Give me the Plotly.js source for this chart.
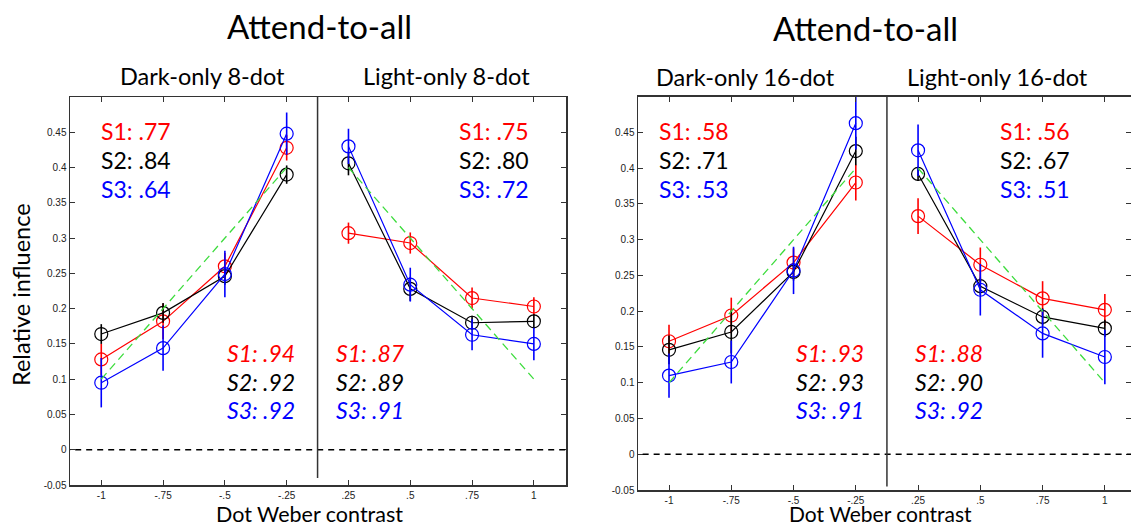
<!DOCTYPE html>
<html><head><meta charset="utf-8">
<script src="https://cdn.plot.ly/plotly-3.0.1.min.js"></script>
<style>html,body{margin:0;padding:0;background:#fff}#chart{width:1131px;height:527px}</style>
</head><body><div id="chart"></div>
<script>
// categories (dot Weber contrast)
const xCats = ['-1', '-.75', '-.5', '-.25', '.25', '.5', '.75', '1'];
const darkX = ['-1', '-.75', '-.5', '-.25'];
const lightX = ['.25', '.5', '.75', '1'];
const yTickVals = [-0.05, 0, 0.05, 0.1, 0.15, 0.2, 0.25, 0.3, 0.35, 0.4, 0.45];
const yTickText = ['-0.05', '0', '0.05', '0.1', '0.15', '0.2', '0.25', '0.3', '0.35', '0.4', '0.45'];

// ideal (green dashed)
const darkIdeal = [0.1, 0.2, 0.3, 0.4];
const lightIdeal = [0.4, 0.3, 0.2, 0.1];

// 8-dot, dark-only
const d8_S1 = [0.128, 0.182, 0.260, 0.428];
const d8_S2 = [0.164, 0.194, 0.246, 0.390];
const d8_S3 = [0.095, 0.144, 0.249, 0.448];
const d8_S1e = [0.022, 0.025, 0.019, 0.018];
const d8_S2e = [0.014, 0.014, 0.012, 0.013];
const d8_S3e = [0.035, 0.032, 0.033, 0.030];
// 8-dot, light-only
const l8_S1 = [0.307, 0.293, 0.215, 0.203];
const l8_S2 = [0.406, 0.228, 0.180, 0.182];
const l8_S3 = [0.430, 0.234, 0.163, 0.150];
const l8_S1e = [0.015, 0.015, 0.015, 0.013];
const l8_S2e = [0.017, 0.017, 0.010, 0.010];
const l8_S3e = [0.025, 0.024, 0.022, 0.023];
// 16-dot, dark-only
const d16_S1 = [0.158, 0.194, 0.268, 0.380];
const d16_S2 = [0.146, 0.171, 0.255, 0.424];
const d16_S3 = [0.110, 0.129, 0.257, 0.463];
const d16_S1e = [0.023, 0.025, 0.020, 0.025];
const d16_S2e = [0.020, 0.030, 0.012, 0.020];
const d16_S3e = [0.031, 0.030, 0.033, 0.037];
// 16-dot, light-only
const l16_S1 = [0.333, 0.265, 0.218, 0.202];
const l16_S2 = [0.392, 0.235, 0.192, 0.176];
const l16_S3 = [0.425, 0.230, 0.169, 0.136];
const l16_S1e = [0.025, 0.024, 0.024, 0.022];
const l16_S2e = [0.010, 0.012, 0.012, 0.012];
const l16_S3e = [0.036, 0.036, 0.034, 0.038];

// fit labels
const topLabels = {
  d8: ['S1: .77', 'S2: .84', 'S3: .64'],
  l8: ['S1: .75', 'S2: .80', 'S3: .72'],
  d16: ['S1: .58', 'S2: .71', 'S3: .53'],
  l16: ['S1: .56', 'S2: .67', 'S3: .51']
};
const botLabels = {
  d8: ['S1: .94', 'S2: .92', 'S3: .92'],
  l8: ['S1: .87', 'S2: .89', 'S3: .91'],
  d16: ['S1: .93', 'S2: .93', 'S3: .91'],
  l16: ['S1: .88', 'S2: .90', 'S3: .92']
};

const RED = 'rgb(255,0,0)', BLK = 'rgb(0,0,0)', BLU = 'rgb(0,0,255)', GRN = 'rgb(60,220,60)';
const subjColors = [RED, BLK, BLU];

const W = 1131, H = 527;
const traces = [];
function addGroup(xs, ys, errs, xa, ya) {
  ys.forEach((y, i) => {
    traces.push({
      x: xs, y: y, xaxis: xa, yaxis: ya, type: 'scatter', mode: 'lines+markers',
      line: {color: subjColors[i], width: 1.2},
      marker: {symbol: 'circle-open', size: 13, color: subjColors[i], line: {width: 1.2, color: subjColors[i]}},
      error_y: {type: 'data', array: errs[i], visible: true, width: 0, thickness: 1.6, color: subjColors[i]},
      showlegend: false, hoverinfo: 'skip'
    });
  });
}
function addIdeal(xs, ys, xa, ya) {
  traces.push({x: xs, y: ys, xaxis: xa, yaxis: ya, type: 'scatter', mode: 'lines',
    line: {color: GRN, width: 1.3, dash: '8px,5px'}, showlegend: false, hoverinfo: 'skip'});
}
addGroup(darkX, [d8_S1, d8_S2, d8_S3], [d8_S1e, d8_S2e, d8_S3e], 'x', 'y');
addGroup(lightX, [l8_S1, l8_S2, l8_S3], [l8_S1e, l8_S2e, l8_S3e], 'x', 'y');
addGroup(darkX, [d16_S1, d16_S2, d16_S3], [d16_S1e, d16_S2e, d16_S3e], 'x2', 'y2');
addGroup(lightX, [l16_S1, l16_S2, l16_S3], [l16_S1e, l16_S2e, l16_S3e], 'x2', 'y2');
addIdeal(darkX, darkIdeal, 'x', 'y');
addIdeal(lightX, lightIdeal, 'x', 'y');
addIdeal(darkX, darkIdeal, 'x2', 'y2');
addIdeal(lightX, lightIdeal, 'x2', 'y2');

const FONT = 'Lato, "Open Sans", sans-serif';
const TICKFONT = {family: '"Liberation Sans Narrow", "Liberation Sans", Arial, sans-serif', size: 10, color: '#222'};
function xAxis(domain, range, anchor) {
  return {type: 'category', categoryorder: 'array', categoryarray: xCats, domain: domain, range: range, anchor: anchor,
    showline: true, linecolor: '#333', linewidth: 1.5, mirror: 'ticks', ticks: 'inside', ticklen: 5, tickcolor: '#333',
    showgrid: false, zeroline: false, tickfont: TICKFONT, automargin: false};
}
function yAxis(domain, anchor) {
  return {domain: domain, range: [-0.05, 0.5], anchor: anchor, tickvals: yTickVals, ticktext: yTickText,
    showline: true, linecolor: '#333', linewidth: 1.5, mirror: 'ticks', ticks: 'inside', ticklen: 5, tickcolor: '#333',
    showgrid: false, zeroline: false, tickfont: TICKFONT, automargin: false};
}

const annotations = [];
function txt(text, px, py, size, color, extra) {
  annotations.push(Object.assign({text: text, xref: 'paper', yref: 'paper', x: px / W, y: 1 - py / H,
    xanchor: 'center', yanchor: 'middle', showarrow: false, font: {family: FONT, size: size, color: color}}, extra || {}));
}
txt('Attend-to-all', 319, 26, 33, '#000');
txt('Attend-to-all', 865, 28, 33, '#000');
txt('Dark-only 8-dot', 202, 76, 23.5, '#000');
txt('Light-only 8-dot', 446, 76, 23.5, '#000');
txt('Dark-only 16-dot', 746, 77, 23.5, '#000');
txt('Light-only 16-dot', 997, 77, 23.5, '#000');
txt('Dot Weber contrast', 309, 514, 21.5, '#000');
txt('Dot Weber contrast', 880, 513, 21, '#000');
txt('Relative influence', 21, 295, 23.5, '#000', {textangle: -90});

function labelBlock(lines, cx, ys, italic) {
  lines.forEach((t, i) => {
    const s = italic ? '<i>' + t + '</i>' : t;
    txt(s, cx, ys[i], 23, subjColors[i]);
  });
}
const topY = [131, 160, 189], botY = [353, 382, 410];
labelBlock(topLabels.d8, 136, topY, false);
labelBlock(botLabels.d8, 261, botY, true);
labelBlock(topLabels.l8, 494, topY, false);
labelBlock(botLabels.l8, 370, botY, true);
labelBlock(topLabels.d16, 694, topY, false);
labelBlock(botLabels.d16, 830, botY, true);
labelBlock(topLabels.l16, 1035, topY, false);
labelBlock(botLabels.l16, 949, botY, true);

const shapes = [
  {type: 'line', xref: 'x', yref: 'y', x0: -0.6, x1: 7.6, y0: 0, y1: 0, line: {color: '#000', width: 1.5, dash: '6px,5px'}},
  {type: 'line', xref: 'x2', yref: 'y2', x0: -0.6, x1: 7.6, y0: 0, y1: 0, line: {color: '#000', width: 1.5, dash: '6px,5px'}},
  {type: 'line', xref: 'x', yref: 'y', x0: 3.5, x1: 3.5, y0: -0.04, y1: 0.5, line: {color: '#333', width: 1.5}},
  {type: 'line', xref: 'x2', yref: 'y2', x0: 3.5, x1: 3.5, y0: -0.045, y1: 0.5, line: {color: '#333', width: 1.5}}
];

const layout = {
  width: W, height: H, margin: {l: 0, r: 0, t: 0, b: 0},
  paper_bgcolor: '#fff', plot_bgcolor: '#fff', showlegend: false,
  xaxis: xAxis([70 / W, 566 / W], [-0.506, 7.52], 'y'),
  yaxis: yAxis([1 - 485 / H, 1 - 97 / H], 'x'),
  xaxis2: xAxis([638 / W, 1], [-0.498, 7.42], 'y2'),
  yaxis2: yAxis([1 - 490 / H, 1 - 96.7 / H], 'x2'),
  annotations: annotations, shapes: shapes
};
Plotly.newPlot('chart', traces, layout, {staticPlot: true, displayModeBar: false});
</script></body></html>
